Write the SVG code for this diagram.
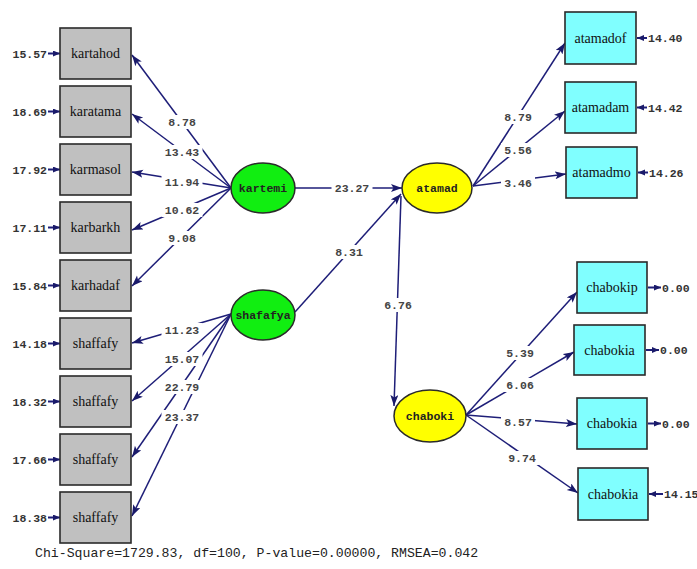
<svg xmlns="http://www.w3.org/2000/svg" width="697" height="569" viewBox="0 0 697 569">
<defs>
<marker id="ah" markerUnits="userSpaceOnUse" markerWidth="12" markerHeight="10" refX="11" refY="4" orient="auto">
<path d="M0,0 L11,4 L0,8 L2.5,4 Z" fill="#1a1a6a"/>
</marker>
<marker id="sh" markerUnits="userSpaceOnUse" markerWidth="8" markerHeight="8" refX="7" refY="3" orient="auto">
<path d="M0,0 L7,3 L0,6 Z" fill="#1a1a6a"/>
</marker>
</defs>
<style>
.bg{fill:#ffffff}
.obs{fill:#c0c0c0;stroke:#2a2a2a;stroke-width:1.6}
.obc{fill:#80ffff;stroke:#2a2a2a;stroke-width:1.6}
.lg{fill:#11ee11;stroke:#2a2a2a;stroke-width:1.5}
.ly{fill:#ffff00;stroke:#2a2a2a;stroke-width:1.5}
.bt{font-family:"Liberation Serif",serif;font-size:14px;fill:#111;text-anchor:middle}
.et{font-family:"Liberation Mono",monospace;font-size:11.5px;font-weight:bold;fill:#222;text-anchor:middle}
.err{font-family:"Liberation Mono",monospace;font-size:11.5px;font-weight:bold;fill:#333}
.c{stroke:#1e1e78;stroke-width:1.5;fill:none;marker-end:url(#ah)}
.e{stroke:#1e1e78;stroke-width:2;fill:none;marker-end:url(#sh)}
.lb{fill:#ffffff}
.lab{font-family:"Liberation Mono",monospace;font-size:11.5px;font-weight:bold;fill:#444;text-anchor:middle}
.ft{font-family:"Liberation Mono",monospace;font-size:13.2px;fill:#222}
</style>
<rect class="bg" x="0" y="0" width="697" height="569"/>

<g id="connectors">
<line class="c" x1="231" y1="188" x2="132" y2="55"/>
<line class="c" x1="231" y1="188" x2="132" y2="114"/>
<line class="c" x1="231" y1="188" x2="132" y2="172"/>
<line class="c" x1="231" y1="188" x2="132" y2="230"/>
<line class="c" x1="231" y1="188" x2="132" y2="286"/>
<line class="c" x1="231" y1="314" x2="132" y2="343"/>
<line class="c" x1="231" y1="314" x2="132" y2="401"/>
<line class="c" x1="231" y1="314" x2="132" y2="457"/>
<line class="c" x1="231" y1="314" x2="132" y2="516"/>
<line class="c" x1="295" y1="188" x2="402" y2="188"/>
<line class="c" x1="295" y1="312" x2="401" y2="194"/>
<line class="c" x1="401" y1="196" x2="394" y2="406"/>
<line class="c" x1="473" y1="186" x2="565" y2="43"/>
<line class="c" x1="473" y1="186" x2="565" y2="111"/>
<line class="c" x1="473" y1="186" x2="566" y2="174"/>
<line class="c" x1="466" y1="415" x2="577" y2="292"/>
<line class="c" x1="466" y1="415" x2="574" y2="352"/>
<line class="c" x1="466" y1="415" x2="577" y2="424"/>
<line class="c" x1="466" y1="415" x2="578" y2="493"/>
<line class="e" x1="48" y1="53.5" x2="60" y2="53.5"/>
<line class="e" x1="48" y1="111.5" x2="60" y2="111.5"/>
<line class="e" x1="48" y1="169.5" x2="60" y2="169.5"/>
<line class="e" x1="48" y1="227.5" x2="60" y2="227.5"/>
<line class="e" x1="48" y1="285.5" x2="60" y2="285.5"/>
<line class="e" x1="48" y1="343.5" x2="60" y2="343.5"/>
<line class="e" x1="48" y1="401.5" x2="60" y2="401.5"/>
<line class="e" x1="48" y1="459.5" x2="60" y2="459.5"/>
<line class="e" x1="48" y1="517.5" x2="60" y2="517.5"/>
<line class="e" x1="647" y1="38" x2="637" y2="38"/>
<line class="e" x1="647" y1="107.5" x2="637" y2="107.5"/>
<line class="e" x1="648" y1="172.5" x2="638" y2="172.5"/>
<line class="e" x1="648" y1="287.5" x2="661" y2="287.5"/>
<line class="e" x1="646" y1="350" x2="659" y2="350"/>
<line class="e" x1="648" y1="423.5" x2="661" y2="423.5"/>
<line class="e" x1="663" y1="494" x2="649" y2="494"/>
<!-- label backgrounds -->
<rect class="lb" x="165" y="115" width="34" height="14"/>
<rect class="lb" x="161.5" y="145" width="41" height="14"/>
<rect class="lb" x="161.5" y="175" width="41" height="14"/>
<rect class="lb" x="161.5" y="203" width="41" height="14"/>
<rect class="lb" x="165" y="231" width="34" height="14"/>
<rect class="lb" x="161.5" y="323" width="41" height="14"/>
<rect class="lb" x="161.5" y="352" width="41" height="14"/>
<rect class="lb" x="161.5" y="380" width="41" height="14"/>
<rect class="lb" x="161.5" y="410" width="41" height="14"/>
<rect class="lb" x="331.5" y="181" width="41" height="14"/>
<rect class="lb" x="332" y="245" width="34" height="14"/>
<rect class="lb" x="381" y="298" width="34" height="14"/>
<rect class="lb" x="501" y="110" width="34" height="14"/>
<rect class="lb" x="501" y="143" width="34" height="14"/>
<rect class="lb" x="501" y="176" width="34" height="14"/>
<rect class="lb" x="503" y="346" width="34" height="14"/>
<rect class="lb" x="503" y="378" width="34" height="14"/>
<rect class="lb" x="501" y="415" width="34" height="14"/>
<rect class="lb" x="505" y="451" width="34" height="14"/>
<text class="lab" x="182" y="126">8.78</text>
<text class="lab" x="182" y="156">13.43</text>
<text class="lab" x="182" y="186">11.94</text>
<text class="lab" x="182" y="214">10.62</text>
<text class="lab" x="182" y="242">9.08</text>
<text class="lab" x="182" y="334">11.23</text>
<text class="lab" x="182" y="363">15.07</text>
<text class="lab" x="182" y="391">22.79</text>
<text class="lab" x="182" y="421">23.37</text>
<text class="lab" x="352" y="192">23.27</text>
<text class="lab" x="349" y="256">8.31</text>
<text class="lab" x="398" y="309">6.76</text>
<text class="lab" x="518" y="121">8.79</text>
<text class="lab" x="518" y="154">5.56</text>
<text class="lab" x="518" y="187">3.46</text>
<text class="lab" x="520" y="357">5.39</text>
<text class="lab" x="520" y="389">6.06</text>
<text class="lab" x="518" y="426">8.57</text>
<text class="lab" x="522" y="462">9.74</text>
</g>

<g id="kartahod"><rect class="obs" x="60" y="28" width="71" height="51"/><text class="bt" x="95.5" y="58">kartahod</text><text class="err" x="47" y="57.5" text-anchor="end">15.57</text></g>
<g id="karatama"><rect class="obs" x="60" y="86" width="71" height="51"/><text class="bt" x="95.5" y="116">karatama</text><text class="err" x="47" y="115.5" text-anchor="end">18.69</text></g>
<g id="karmasol"><rect class="obs" x="60" y="144" width="71" height="51"/><text class="bt" x="95.5" y="174">karmasol</text><text class="err" x="47" y="173.5" text-anchor="end">17.92</text></g>
<g id="karbarkh"><rect class="obs" x="60" y="202" width="71" height="51"/><text class="bt" x="95.5" y="232">karbarkh</text><text class="err" x="47" y="231.5" text-anchor="end">17.11</text></g>
<g id="karhadaf"><rect class="obs" x="60" y="260" width="71" height="51"/><text class="bt" x="95.5" y="290">karhadaf</text><text class="err" x="47" y="289.5" text-anchor="end">15.84</text></g>
<g id="shaffafy1"><rect class="obs" x="60" y="318" width="71" height="51"/><text class="bt" x="95.5" y="348">shaffafy</text><text class="err" x="47" y="347.5" text-anchor="end">14.18</text></g>
<g id="shaffafy2"><rect class="obs" x="60" y="376" width="71" height="51"/><text class="bt" x="95.5" y="406">shaffafy</text><text class="err" x="47" y="405.5" text-anchor="end">18.32</text></g>
<g id="shaffafy3"><rect class="obs" x="60" y="434" width="71" height="51"/><text class="bt" x="95.5" y="464">shaffafy</text><text class="err" x="47" y="463.5" text-anchor="end">17.66</text></g>
<g id="shaffafy4"><rect class="obs" x="60" y="492" width="71" height="51"/><text class="bt" x="95.5" y="522">shaffafy</text><text class="err" x="47" y="521.5" text-anchor="end">18.38</text></g>

<g id="kartemi"><ellipse class="lg" cx="263" cy="188" rx="32" ry="25"/><text class="et" x="263" y="192">kartemi</text></g>
<g id="shafafya"><ellipse class="lg" cx="263" cy="315" rx="32" ry="25"/><text class="et" x="263" y="319">shafafya</text></g>
<g id="atamad"><ellipse class="ly" cx="437" cy="188" rx="35" ry="25"/><text class="et" x="437" y="192">atamad</text></g>
<g id="chaboki"><ellipse class="ly" cx="430" cy="416" rx="36" ry="26"/><text class="et" x="430" y="420">chaboki</text></g>

<g id="atamadof"><rect class="obc" x="565" y="12" width="71" height="52"/><text class="bt" x="600.5" y="42.5">atamadof</text><text class="err" x="648" y="42">14.40</text></g>
<g id="atamadam"><rect class="obc" x="565" y="82" width="71" height="51"/><text class="bt" x="600.5" y="112">atamadam</text><text class="err" x="648" y="111.5">14.42</text></g>
<g id="atamadmo"><rect class="obc" x="566" y="147" width="71" height="51"/><text class="bt" x="601.5" y="177">atamadmo</text><text class="err" x="649" y="176.5">14.26</text></g>

<g id="chabokip"><rect class="obc" x="577" y="262" width="70" height="51"/><text class="bt" x="612" y="292">chabokip</text><text class="err" x="662" y="291.5">0.00</text></g>
<g id="chabokia1"><rect class="obc" x="574" y="325" width="71" height="50"/><text class="bt" x="609.5" y="354.5">chabokia</text><text class="err" x="660" y="354">0.00</text></g>
<g id="chabokia2"><rect class="obc" x="577" y="398" width="70" height="51"/><text class="bt" x="612" y="428">chabokia</text><text class="err" x="662" y="427.5">0.00</text></g>
<g id="chabokia3"><rect class="obc" x="578" y="468" width="70" height="52"/><text class="bt" x="613" y="498.5">chabokia</text><text class="err" x="664" y="498">14.15</text></g>

<text class="ft" x="35" y="557">Chi-Square=1729.83, df=100, P-value=0.00000, RMSEA=0.042</text>
</svg>
